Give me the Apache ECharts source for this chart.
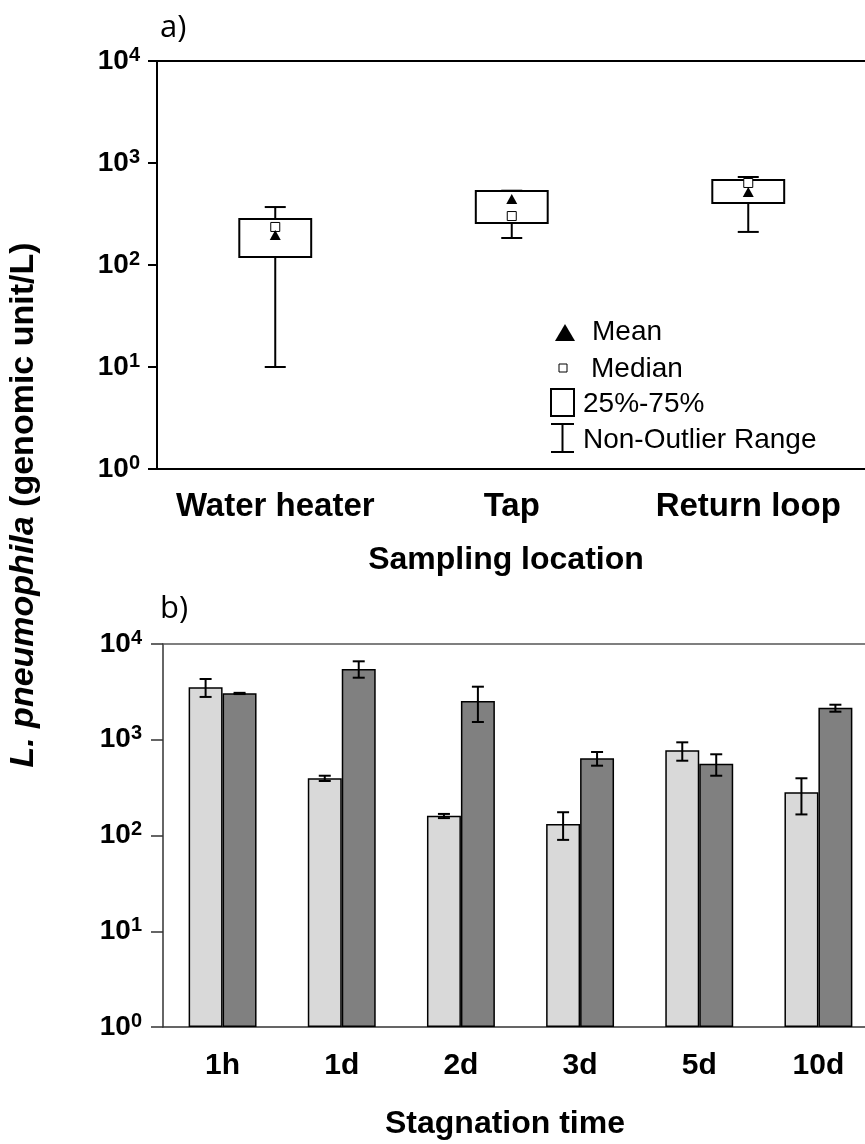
<!DOCTYPE html>
<html>
<head>
<meta charset="utf-8">
<script src="https://cdn.jsdelivr.net/npm/echarts@6/dist/echarts.min.js"></script>
<style>
  html, body { margin: 0; padding: 0; background: #fff; }
  #chart { width: 865px; height: 1144px; }
</style>
</head>
<body>
<div id="chart"></div>
<script>
// panel a) - box plot by sampling location
var locations = ['Water heater', 'Tap', 'Return loop']
var boxMin = [10, 184, 211]
var boxQ1 = [120, 258, 405]
var boxQ3 = [282, 531, 681]
var boxMax = [370, 535, 729]
var boxMedian = [236, 302, 637]
var boxMean = [197, 444, 520]

// panel b) - bars by stagnation time
var stagnation = ['1h', '1d', '2d', '3d', '5d', '10d']
var lightMean = [3530, 396, 161, 132, 776, 283]
var lightLow = [2800, 371, 152, 90, 604, 166]
var lightHigh = [4310, 421, 168, 175, 940, 396]
var darkMean = [3055, 5483, 2540, 640, 562, 2162]
var darkLow = [3000, 4446, 1532, 536, 421, 1963]
var darkHigh = [3090, 6594, 3581, 745, 705, 2322]

var FONT = '"Liberation Sans", Arial, sans-serif'
var BAR_W = 0.285

function powLabel(v) {
  return '{b|10}{s|' + Math.round(Math.log10(v)) + '}'
}
var powRich = {
  b: { fontSize: 28, fontWeight: 'bold', fontFamily: FONT, color: '#000', lineHeight: 32 },
  s: { fontSize: 20, fontWeight: 'bold', fontFamily: FONT, color: '#000', verticalAlign: 'top', lineHeight: 20 },
}

function logAxis(grid, color, width, tickLen, margin) {
  return {
    gridIndex: grid,
    type: 'log',
    logBase: 10,
    min: 1,
    max: 10000,
    axisLine: { show: true, lineStyle: { color: color, width: width } },
    axisTick: { show: true, length: tickLen, lineStyle: { color: color, width: width } },
    splitLine: { show: false },
    minorTick: { show: false },
    axisLabel: { margin: margin, formatter: powLabel, rich: powRich },
  }
}

function boxItem(params, api) {
  var i = api.value(0)
  var pMin = api.coord([i, api.value(1)])
  var pQ1 = api.coord([i, api.value(2)])
  var pQ3 = api.coord([i, api.value(3)])
  var pMax = api.coord([i, api.value(4)])
  var band = api.size([1, 1])[0]
  var half = band * 0.152
  var cap = 10.5
  var x = pQ1[0]
  var ls = { stroke: '#000', lineWidth: 2 }
  return {
    type: 'group',
    children: [
      { type: 'line', shape: { x1: x, y1: pQ3[1], x2: x, y2: pMax[1] }, style: ls },
      { type: 'line', shape: { x1: x - cap, y1: pMax[1], x2: x + cap, y2: pMax[1] }, style: ls },
      { type: 'line', shape: { x1: x, y1: pQ1[1], x2: x, y2: pMin[1] }, style: ls },
      { type: 'line', shape: { x1: x - cap, y1: pMin[1], x2: x + cap, y2: pMin[1] }, style: ls },
      {
        type: 'rect',
        shape: { x: x - half, y: pQ3[1], width: half * 2, height: pQ1[1] - pQ3[1] },
        style: { fill: '#fff', stroke: '#000', lineWidth: 2 },
      },
    ],
  }
}

function errorItem(side) {
  return function (params, api) {
    var i = api.value(0)
    var lo = api.coord([i, api.value(1)])
    var hi = api.coord([i, api.value(2)])
    var band = api.size([1, 1])[0]
    var x = lo[0] + side * band * BAR_W / 2
    var cap = 6
    var ls = { stroke: '#000', lineWidth: 2 }
    return {
      type: 'group',
      children: [
        { type: 'line', shape: { x1: x, y1: lo[1], x2: x, y2: hi[1] }, style: ls },
        { type: 'line', shape: { x1: x - cap, y1: hi[1], x2: x + cap, y2: hi[1] }, style: ls },
        { type: 'line', shape: { x1: x - cap, y1: lo[1], x2: x + cap, y2: lo[1] }, style: ls },
      ],
    }
  }
}

var legendText = { fontSize: 28, fontFamily: FONT, fill: '#000', verticalAlign: 'middle', align: 'left' }
var legendLine = { stroke: '#000', lineWidth: 2 }

var chart = echarts.init(document.getElementById('chart'), null, { renderer: 'canvas' })
chart.setOption({
  animation: false,
  backgroundColor: '#fff',
  grid: [
    { left: 157, top: 61, width: 709.5, height: 408, outerBoundsMode: 'none' },
    { left: 163, top: 644, width: 715, height: 383, outerBoundsMode: 'none' },
  ],
  xAxis: [
    {
      gridIndex: 0,
      type: 'category',
      data: locations,
      axisLine: { onZero: false, lineStyle: { color: '#000', width: 2 } },
      axisTick: { alignWithLabel: true, length: 8, lineStyle: { color: '#000', width: 2 } },
      axisLabel: { interval: 0, hideOverlap: false, margin: 21, fontSize: 33, fontWeight: 'bold', fontFamily: FONT, color: '#000' },
    },
    {
      gridIndex: 0,
      type: 'category',
      position: 'top',
      data: locations,
      axisLine: { onZero: false, lineStyle: { color: '#000', width: 2 } },
      axisTick: { show: false },
      axisLabel: { show: false },
    },
    {
      gridIndex: 1,
      type: 'category',
      data: stagnation,
      axisLine: { onZero: false, lineStyle: { color: '#333', width: 1.5 } },
      axisTick: { length: 12, lineStyle: { color: '#333', width: 1.5 } },
      axisLabel: { interval: 0, margin: 24, fontSize: 30, fontWeight: 'bold', fontFamily: FONT, color: '#000' },
    },
    {
      gridIndex: 1,
      type: 'category',
      position: 'top',
      data: stagnation,
      axisLine: { onZero: false, lineStyle: { color: '#555', width: 1.5 } },
      axisTick: { show: false },
      axisLabel: { show: false },
    },
  ],
  yAxis: [logAxis(0, '#000', 2, 9, 17), logAxis(1, '#333', 1.5, 12, 21)],
  series: [
    {
      type: 'custom',
      xAxisIndex: 0,
      yAxisIndex: 0,
      renderItem: boxItem,
      data: locations.map(function (c, i) {
        return [i, boxMin[i], boxQ1[i], boxQ3[i], boxMax[i]]
      }),
      z: 2,
    },
    {
      type: 'scatter',
      xAxisIndex: 0,
      yAxisIndex: 0,
      symbol: 'rect',
      symbolSize: 9,
      itemStyle: { color: '#fff', borderColor: '#000', borderWidth: 1, opacity: 1 },
      data: boxMedian.map(function (v, i) { return [i, v] }),
      z: 3,
    },
    {
      type: 'scatter',
      xAxisIndex: 0,
      yAxisIndex: 0,
      symbol: 'triangle',
      symbolSize: [11, 10],
      itemStyle: { color: '#000', opacity: 1 },
      data: boxMean.map(function (v, i) { return [i, v] }),
      z: 4,
    },
    {
      type: 'bar',
      xAxisIndex: 2,
      yAxisIndex: 1,
      barWidth: BAR_W * 100 + '%',
      barGap: '0%',
      itemStyle: { color: '#d9d9d9', borderColor: '#000', borderWidth: 1.5 },
      data: lightMean,
    },
    {
      type: 'bar',
      xAxisIndex: 2,
      yAxisIndex: 1,
      barWidth: BAR_W * 100 + '%',
      barGap: '0%',
      itemStyle: { color: '#808080', borderColor: '#000', borderWidth: 1.5 },
      data: darkMean,
    },
    {
      type: 'custom',
      xAxisIndex: 2,
      yAxisIndex: 1,
      renderItem: errorItem(-1),
      data: lightLow.map(function (v, i) { return [i, v, lightHigh[i]] }),
      z: 5,
    },
    {
      type: 'custom',
      xAxisIndex: 2,
      yAxisIndex: 1,
      renderItem: errorItem(1),
      data: darkLow.map(function (v, i) { return [i, v, darkHigh[i]] }),
      z: 5,
    },
  ],
  graphic: [
    // panel letters
    { type: 'text', left: 160, top: 13, style: { text: 'a)', fontSize: 31, fontFamily: '"Open Sans", sans-serif', fill: '#000' } },
    { type: 'text', left: 160, top: 594, style: { text: 'b)', fontSize: 31, fontFamily: '"Open Sans", sans-serif', fill: '#000' } },
    // axis titles
    {
      type: 'text',
      x: 24,
      y: 505,
      rotation: Math.PI / 2,
      style: {
        text: '{i|L. pneumophila} (genomic unit/L)',
        align: 'center',
        verticalAlign: 'middle',
        fontSize: 34,
        fontWeight: 'bold',
        fontFamily: FONT,
        fill: '#000',
        rich: { i: { fontStyle: 'italic', fontWeight: 'bold', fontSize: 34, fontFamily: FONT } },
      },
    },
    {
      type: 'text', x: 506, y: 560,
      style: { text: 'Sampling location', align: 'center', verticalAlign: 'middle', fontSize: 32, fontWeight: 'bold', fontFamily: FONT, fill: '#000' },
    },
    {
      type: 'text', x: 505, y: 1124,
      style: { text: 'Stagnation time', align: 'center', verticalAlign: 'middle', fontSize: 32, fontWeight: 'bold', fontFamily: FONT, fill: '#000' },
    },
    // legend of panel a)
    { type: 'polygon', shape: { points: [[555, 341], [575, 341], [565, 324]] }, style: { fill: '#000' } },
    { type: 'text', x: 592, y: 332, style: Object.assign({ text: 'Mean' }, legendText) },
    { type: 'rect', shape: { x: 559, y: 364, width: 8, height: 8 }, style: { fill: '#fff', stroke: '#000', lineWidth: 1 } },
    { type: 'text', x: 591, y: 369, style: Object.assign({ text: 'Median' }, legendText) },
    { type: 'rect', shape: { x: 551, y: 389, width: 23, height: 27 }, style: { fill: 'none', stroke: '#000', lineWidth: 2 } },
    { type: 'text', x: 583, y: 404, style: Object.assign({ text: '25%-75%' }, legendText) },
    { type: 'line', shape: { x1: 551, y1: 424, x2: 574, y2: 424 }, style: legendLine },
    { type: 'line', shape: { x1: 562.5, y1: 424, x2: 562.5, y2: 452 }, style: legendLine },
    { type: 'line', shape: { x1: 551, y1: 452, x2: 574, y2: 452 }, style: legendLine },
    { type: 'text', x: 583, y: 440, style: Object.assign({ text: 'Non-Outlier Range' }, legendText) },
  ],
})
</script>
</body>
</html>
